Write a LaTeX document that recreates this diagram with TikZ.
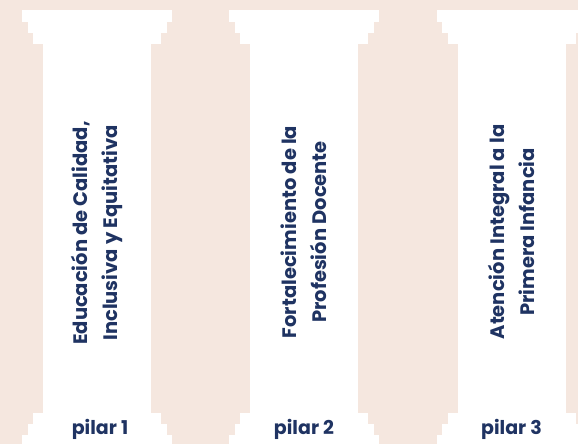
\documentclass[tikz,border=0pt]{standalone}
\usepackage{fontspec}
\setmainfont{Poppins}
\usetikzlibrary{positioning}
\definecolor{fondo}{HTML}{F5E7DF}
\definecolor{azul}{HTML}{1F3362}
\tikzset{
    pieza/.style = {fill=white, draw=none},
    texto/.style = {rotate=90, align=center, text=azul, font=\bfseries\fontsize{19.5}{30}\selectfont},
    etiqueta/.style = {text=azul, font=\bfseries\fontsize{19}{22}\selectfont},
}

\begin{document}
\begin{tikzpicture}[x=1pt,y=-1pt]
%
\clip (0,0) rectangle (578,444);
\fill[fondo] (0,0) rectangle (578,444);
% columnas
\foreach \c in {97,304,511.5} {
  \fill[pieza] (\c-75,10) rectangle (\c+75,22);
  \fill[pieza] (\c-69.5,22) rectangle (\c+69.5,33);
  \fill[pieza] (\c-64,33) rectangle (\c+64,44);
  \fill[pieza] (\c-54,44) rectangle (\c+54,413);
  \fill[pieza] (\c-64,413) rectangle (\c+64,424);
  \fill[pieza] (\c-69.5,424) rectangle (\c+69.5,435);
  \fill[pieza] (\c-75,435) rectangle (\c+75,444);
}
%
\node[texto] at (97,233) (t1) {Educación de Calidad,\\Inclusiva y Equitativa};
\node[texto] at (304,232) (t2) {Fortalecimiento de la\\Profesión Docente};
\node[texto] at (511.5,232) (t3) {Atención Integral a la\\Primera Infancia};
%
\node[etiqueta] at (100,429) (p1) {pilar 1};
\node[etiqueta] at (304,429) (p2) {pilar 2};
\node[etiqueta] at (511.5,429) (p3) {pilar 3};

\end{tikzpicture}
\end{document}
